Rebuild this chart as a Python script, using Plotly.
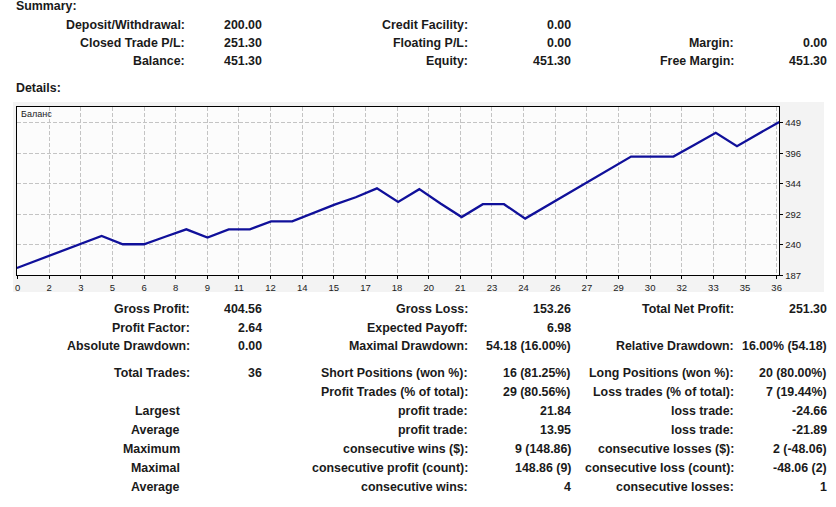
import plotly.graph_objects as go
import numpy as np

W, H = 836, 507

# ---------------- chart data ----------------
trade_no = list(range(37))
balance = [200.0, 213.8, 227.6, 241.4, 255.2, 240.9, 240.9, 253.7, 266.5, 252.3,
           266.5, 266.5, 280.1, 280.1, 294.6, 309.1, 321.7, 337.0, 313.7, 335.6,
           310.9, 287.6, 309.7, 309.7, 285.0, 306.3, 327.6, 348.9, 370.3, 391.6,
           391.6, 391.6, 412.0, 432.5, 409.6, 430.5, 451.3]
x_tick_labels = ["0", "2", "3", "5", "6", "8", "9", "11", "12", "14", "15", "17", "18",
                 "20", "21", "23", "24", "26", "27", "29", "30", "32", "33", "35", "36"]
y_tick_labels = ["187", "240", "292", "344", "396", "449"]
chart_title = "Баланс"

# ---------------- report text ----------------
summary_rows_y = [25, 43.3, 61.7]
sum_c1_labels = ["Deposit/Withdrawal:", "Closed Trade P/L:", "Balance:"]
sum_c1_values = ["200.00", "251.30", "451.30"]
sum_c2_labels = ["Credit Facility:", "Floating P/L:", "Equity:"]
sum_c2_values = ["0.00", "0.00", "451.30"]
sum_c3_labels = ["", "Margin:", "Free Margin:"]
sum_c3_values = ["", "0.00", "451.30"]

det_rows_y = [311.7, 331, 349.3, 376.7, 395.7, 415, 434.3, 453.7, 473, 492.3]
det_c1_labels = ["Gross Profit:", "Profit Factor:", "Absolute Drawdown:", "Total Trades:", "",
                 "Largest", "Average", "Maximum", "Maximal", "Average"]
det_c1_values = ["404.56", "2.64", "0.00", "36", "", "", "", "", "", ""]
det_c2_labels = ["Gross Loss:", "Expected Payoff:", "Maximal Drawdown:", "Short Positions (won %):",
                 "Profit Trades (% of total):", "profit trade:", "profit trade:",
                 "consecutive wins ($):", "consecutive profit (count):", "consecutive wins:"]
det_c2_values = ["153.26", "6.98", "54.18 (16.00%)", "16 (81.25%)", "29 (80.56%)",
                 "21.84", "13.95", "9 (148.86)", "148.86 (9)", "4"]
det_c3_labels = ["Total Net Profit:", "", "Relative Drawdown:", "Long Positions (won %):",
                 "Loss trades (% of total):", "loss trade:", "loss trade:",
                 "consecutive losses ($):", "consecutive loss (count):", "consecutive losses:"]
det_c3_values = ["251.30", "", "16.00% (54.18)", "20 (80.00%)", "7 (19.44%)",
                 "-24.66", "-21.89", "2 (-48.06)", "-48.06 (2)", "1"]

# ---------------- layout helpers ----------------
TXT = "#1a1a1a"
FONT = "Liberation Sans"
FS = 12.4


def px(x):
    return x / W


def py(y):
    return 1 - y / H


annotations = []


def add_text(text, x, y, anchor="right", size=FS, bold=True):
    if not text:
        return
    annotations.append(dict(
        text=f"<b>{text}</b>" if bold else text,
        x=px(x), y=py(y), xref="paper", yref="paper",
        xanchor=anchor, yanchor="middle", showarrow=False,
        font=dict(family=FONT, size=size, color=TXT), borderpad=0,
    ))


add_text("Summary:", 13, 6.5, anchor="left")
add_text("Details:", 13, 89, anchor="left")

for i, yy in enumerate(summary_rows_y):
    add_text(sum_c1_labels[i], 185.5, yy)
    add_text(sum_c1_values[i], 263, yy)
    add_text(sum_c2_labels[i], 469.5, yy)
    add_text(sum_c2_values[i], 573.5, yy)
    add_text(sum_c3_labels[i], 737, yy)
    add_text(sum_c3_values[i], 831, yy)

for i, yy in enumerate(det_rows_y):
    lab = det_c1_labels[i]
    add_text(lab, 190 if lab.endswith(":") else 180.5, yy)
    add_text(det_c1_values[i], 262.5, yy)
    add_text(det_c2_labels[i], 469.5, yy)
    add_text(det_c2_values[i], 573.5, yy)
    add_text(det_c3_labels[i], 737, yy)
    add_text(det_c3_values[i], 831, yy)

# chart title inside plot
add_text(chart_title, 18, 115, anchor="left", size=9, bold=False)

# ---------------- figure ----------------
fig = go.Figure()
fig.add_trace(go.Scatter(
    x=trade_no, y=balance, mode="lines",
    line=dict(color="#10109a", width=2.3),
    hoverinfo="skip", showlegend=False,
))

y_min, y_step = 187.2, 52.5
y_top = 477.5
y_tickvals = [y_min + y_step * k for k in range(len(y_tick_labels))]
x_step = 1.4935
x_tickvals = [0.03 + x_step * k for k in range(len(x_tick_labels))]

plot_left, plot_right, plot_top, plot_bottom = 15, 782, 107.7, 278.2

fig.update_layout(
    width=W, height=H,
    margin=dict(l=0, r=0, t=0, b=0),
    paper_bgcolor="white",
    plot_bgcolor="rgba(0,0,0,0)",
    annotations=annotations,
    shapes=[
        dict(type="rect", xref="paper", yref="paper",
             x0=px(11), x1=px(827), y0=py(295), y1=py(103),
             fillcolor="#f3f3f3", line=dict(width=0), layer="below"),
        dict(type="rect", xref="paper", yref="paper",
             x0=px(plot_left), x1=px(plot_right), y0=py(plot_bottom), y1=py(plot_top),
             fillcolor="#fcfcfc", line=dict(width=0), layer="below"),
    ],
    xaxis=dict(
        domain=[px(plot_left), px(plot_right)],
        range=[0, 36], tickvals=x_tickvals, ticktext=x_tick_labels,
        showgrid=True, gridcolor="#c4c4c4", griddash="4px,2px", gridwidth=1,
        showline=True, linecolor="black", linewidth=1, mirror=True,
        ticks="outside", ticklen=3, tickcolor="black",
        tickfont=dict(family=FONT, size=9.5, color="#222"),
        zeroline=False, fixedrange=True,
    ),
    yaxis=dict(
        domain=[py(plot_bottom), py(plot_top)],
        range=[y_min, y_top], side="right",
        tickvals=y_tickvals, ticktext=y_tick_labels,
        showgrid=True, gridcolor="#c4c4c4", griddash="4px,2px", gridwidth=1,
        showline=True, linecolor="black", linewidth=1, mirror=True,
        ticks="outside", ticklen=3, tickcolor="black",
        tickfont=dict(family=FONT, size=9.5, color="#222"),
        zeroline=False, fixedrange=True,
    ),
)

fig.write_html(
    "out.html",
    config={"displayModeBar": False},
    post_script="document.body.style.margin='0px';document.body.style.overflow='hidden';",
)
